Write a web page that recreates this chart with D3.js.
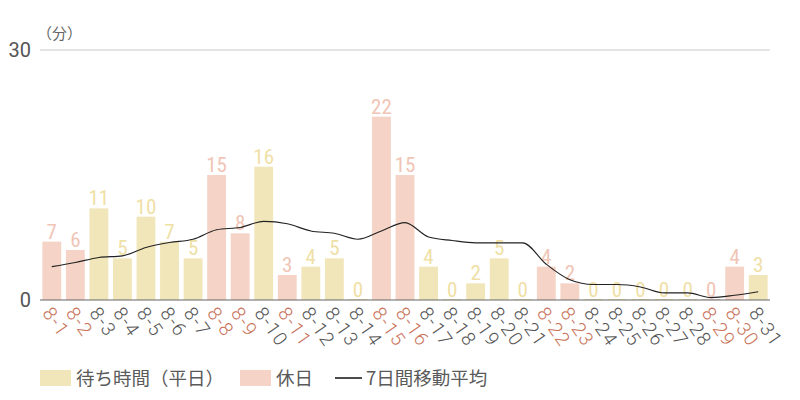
<!DOCTYPE html>
<html><head><meta charset="utf-8">
<script src="https://cdn.jsdelivr.net/npm/d3@7"></script>
<style>body{margin:0;background:#fff}svg{display:block}</style>
</head><body><svg id="c" width="800" height="400"></svg>
<script>
const categories = ["8-1","8-2","8-3","8-4","8-5","8-6","8-7","8-8","8-9","8-10","8-11","8-12","8-13","8-14","8-15","8-16","8-17","8-18","8-19","8-20","8-21","8-22","8-23","8-24","8-25","8-26","8-27","8-28","8-29","8-30","8-31"];
const waitValues = [7,6,11,5,10,7,5,15,8,16,3,4,5,0,22,15,4,0,2,5,0,4,2,0,0,0,0,0,0,4,3];
const holidayFlags = [1,1,0,0,0,0,0,1,1,0,1,0,0,0,1,1,0,0,0,0,0,1,1,0,0,0,0,0,1,1,0];
const movingAvg = [4.0,4.5,5.1,5.3,6.3,6.9,7.29,8.43,8.71,9.43,9.14,8.29,8.0,7.29,8.29,9.29,7.57,7.14,6.86,6.86,6.86,4.29,2.43,1.86,1.86,1.57,0.86,0.86,0.29,0.57,1.0];
const yTicks = [0,30];
const legendLabels = ["待ち時間（平日）","休日","7日間移動平均"];

const svg = d3.select("#c");
const m = {l:40, r:30, t:50, b:100};
const W = 800, H = 400;
const x = d3.scaleBand().domain(categories).range([m.l, W-m.r]).paddingInner(0.2).paddingOuter(0.1);
const y = d3.scaleLinear().domain([0,30]).range([H-m.b, m.t]);
const cWeek = "#f1e6b9", cHol = "#f5d3c6";
const tWeek = "#efe0a6", tHol = "#f0c5b6";
const font = "'Noto Sans CJK JP','Noto Sans',sans-serif";
const narrow = "'Roboto Condensed','Liberation Sans Narrow','DejaVu Sans Condensed',sans-serif";

// gridline at 30
svg.append("line").attr("x1",m.l).attr("x2",W-m.r).attr("y1",y(30)).attr("y2",y(30)).attr("stroke","#c8c8c8").attr("stroke-width",1);

// y tick labels
svg.selectAll(".yt").data(yTicks).join("text")
  .attr("x",31).attr("y",d=>y(d)).attr("dy","0.35em").attr("text-anchor","end")
  .attr("font-family","Roboto,sans-serif").attr("font-size",20).attr("fill","#555").text(d=>d);
svg.append("text").attr("x",37).attr("y",39).attr("font-family",font).attr("font-size",15).attr("fill","#666").text("（分）");

const data = categories.map((c,i)=>({c, v:waitValues[i], h:holidayFlags[i], a:movingAvg[i]}));

// bars
svg.selectAll(".bar").data(data).join("rect")
  .attr("x",d=>x(d.c)).attr("width",x.bandwidth())
  .attr("y",d=>y(d.v)-(d.v===0?1:0)).attr("height",d=>y(0)-y(d.v)+(d.v===0?1:0))
  .attr("fill",d=>d.h?cHol:cWeek);

// value labels
svg.selectAll(".vl").data(data).join("text")
  .attr("x",d=>x(d.c)+x.bandwidth()/2).attr("y",d=>y(d.v)-3)
  .attr("text-anchor","middle").attr("font-family",narrow).attr("font-size",21)
  .attr("fill",d=>d.h?tHol:tWeek).text(d=>d.v);

// baseline
svg.append("line").attr("x1",m.l).attr("x2",W-m.r).attr("y1",y(0)).attr("y2",y(0)).attr("stroke","#666").attr("stroke-width",1.2);

// moving average
const line = d3.line().x(d=>x(d.c)+x.bandwidth()/2).y(d=>y(d.a)).curve(d3.curveMonotoneX);
svg.append("path").datum(data).attr("d",line).attr("fill","none").attr("stroke","#222").attr("stroke-width",1.1);

// x labels
svg.selectAll(".xl").data(data).join("text")
  .attr("transform",d=>`translate(${x(d.c)+x.bandwidth()/2-3},${y(0)+8}) rotate(55)`)
  .attr("dy","0.45em")
  .attr("font-family","Roboto,sans-serif").attr("font-size",19).attr("font-weight",300)
  .attr("letter-spacing",1.5)
  .attr("fill",d=>d.h?"#c9735a":"#555").text(d=>d.c);

// legend
const lg = svg.append("g").attr("font-family",font).attr("font-size",18.5).attr("fill","#5a5a5a");
lg.append("rect").attr("x",40).attr("y",370).attr("width",31).attr("height",16).attr("fill",cWeek);
lg.append("text").attr("x",76).attr("y",378).attr("dy","0.36em").text(legendLabels[0]);
lg.append("rect").attr("x",240).attr("y",370).attr("width",31).attr("height",16).attr("fill",cHol);
lg.append("text").attr("x",276).attr("y",378).attr("dy","0.36em").text(legendLabels[1]);
lg.append("line").attr("x1",335).attr("x2",362).attr("y1",378).attr("y2",378).attr("stroke","#111").attr("stroke-width",1.5);
lg.append("text").attr("x",366).attr("y",378).attr("dy","0.36em").text(legendLabels[2]);
</script></body></html>
